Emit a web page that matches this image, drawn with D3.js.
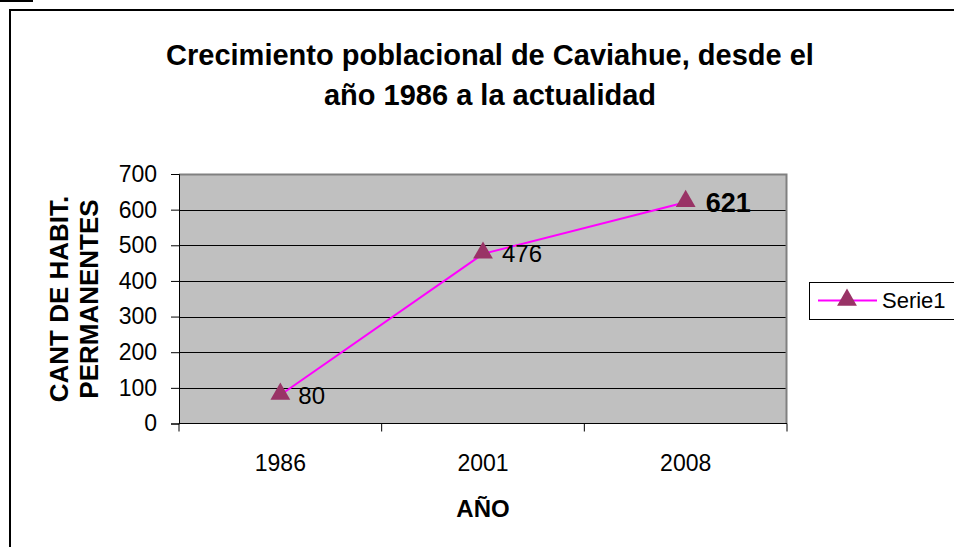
<!DOCTYPE html>
<html><head><meta charset="utf-8">
<script src="https://cdn.jsdelivr.net/npm/d3@7"></script>
<style>body{margin:0;background:#fff}svg{display:block;font-family:"Liberation Sans",Arial,sans-serif}</style>
</head><body>
<svg id="c" width="954" height="547"></svg>
<script>
const categories = ["1986", "2001", "2008"];
const values = [80, 476, 621];
const yTicks = [0, 100, 200, 300, 400, 500, 600, 700];
const seriesName = "Serie1";
const titleLines = ["Crecimiento poblacional de Caviahue, desde el", "año 1986 a la actualidad"];
const yTitleLines = ["CANT DE HABIT.", "PERMANENTES"];
const xTitle = "AÑO";

const svg = d3.select("#c");
const L = 179, R = 787, T = 174, B = 423.5;
const FF = "Liberation Sans, Arial, sans-serif";

// small mark + outer frame
svg.append("line").attr("x1",0).attr("x2",33).attr("y1",1).attr("y2",1).attr("stroke","#000").attr("stroke-width",2);
svg.append("rect").attr("x",10).attr("y",10).attr("width",1000).attr("height",600)
  .attr("fill","none").attr("stroke","#000").attr("stroke-width",2);

const x = d3.scaleBand().domain(categories).range([L, R]);
const y = d3.scaleLinear().domain([0, 700]).range([B, T]);

// plot area
svg.append("rect").attr("x",L).attr("y",T).attr("width",R-L).attr("height",B-T).attr("fill","#C0C0C0");
svg.append("g").selectAll("line").data(yTicks.filter(d=>d>0 && d<700)).join("line")
  .attr("x1",L).attr("x2",R).attr("y1",d=>Math.round(y(d))+0.5).attr("y2",d=>Math.round(y(d))+0.5)
  .attr("stroke","#000").attr("stroke-width",1);
svg.append("path").attr("d",`M${L},${T+0.5}H${R-0.5}V${B}`).attr("fill","none").attr("stroke","#808080").attr("stroke-width",2);

// axes
const yAxis = d3.axisLeft(y).tickValues(yTicks).tickSize(8).tickPadding(14);
const gy = svg.append("g").attr("transform",`translate(${L},0)`).call(yAxis);
gy.selectAll("text").attr("font-size",23).attr("fill","#000").attr("font-family",FF);
gy.selectAll("line,path").attr("stroke","#000");

const xAxis = d3.axisBottom(x).tickSize(0).tickPadding(31);
const gx = svg.append("g").attr("transform",`translate(0,${B})`).call(xAxis);
gx.select("path").remove();
gx.selectAll("text").attr("font-size",23).attr("fill","#000").attr("font-family",FF);
svg.append("line").attr("x1",L).attr("x2",R).attr("y1",B).attr("y2",B).attr("stroke","#000");
const bounds = categories.map(c=>x(c)).concat([R]);
svg.append("g").selectAll("line").data(bounds).join("line")
  .attr("x1",d=>d).attr("x2",d=>d).attr("y1",B).attr("y2",B+8).attr("stroke","#000");

// line + markers
const cx = d => x(d) + x.bandwidth()/2;
const line = d3.line().x((d,i)=>cx(categories[i])).y(d=>y(d));
svg.append("path").datum(values).attr("d",line).attr("fill","none").attr("stroke","#FF00FF").attr("stroke-width",2);
const tri = d3.symbol().type(d3.symbolTriangle).size(170);
svg.append("g").selectAll("path").data(values).join("path")
  .attr("d",tri).attr("transform",(d,i)=>`translate(${cx(categories[i])},${y(d)-1})`).attr("fill","#993366");

// data labels
svg.append("g").selectAll("text").data(values).join("text")
  .attr("x",(d,i)=>cx(categories[i])+18+i).attr("y",d=>y(d)).attr("dy","0.36em")
  .attr("font-size",(d,i)=>i===2?27:24).attr("font-weight",(d,i)=>i===2?"bold":"normal")
  .text(d=>d);

// titles
svg.append("g").selectAll("text").data(titleLines).join("text")
  .attr("x",490).attr("y",(d,i)=>65+i*40).attr("text-anchor","middle")
  .attr("font-size",29).attr("font-weight","bold").text(d=>d);
svg.append("g").selectAll("text").data(yTitleLines).join("text")
  .attr("transform",(d,i)=>`translate(${68+i*30},299) rotate(-90)`).attr("text-anchor","middle")
  .attr("font-size",26).attr("font-weight","bold").text(d=>d);
svg.append("text").attr("x",cx("2001")).attr("y",517).attr("text-anchor","middle")
  .attr("font-size",24).attr("font-weight","bold").text(xTitle);

// legend
const lg = svg.append("g").attr("transform","translate(809,282)");
lg.append("rect").attr("x",0.5).attr("y",0.5).attr("width",200).attr("height",37).attr("fill","#fff").attr("stroke","#000");
lg.append("line").attr("x1",9).attr("x2",68).attr("y1",18.5).attr("y2",18.5).attr("stroke","#FF00FF").attr("stroke-width",2);
lg.append("path").attr("d",tri).attr("transform","translate(38,18)").attr("fill","#993366");
lg.append("text").attr("x",73).attr("y",18.5).attr("dy","0.36em").attr("font-size",22).text(seriesName);
</script>
</body></html>
